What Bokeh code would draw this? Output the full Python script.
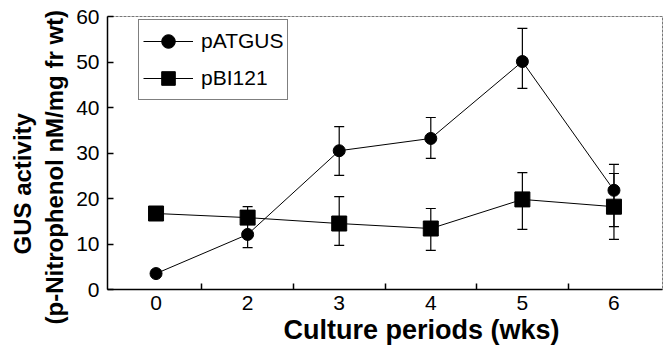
from bokeh.plotting import figure
from bokeh.models import ColumnDataSource, Whisker, TeeHead, FixedTicker, Range1d, Legend, LegendItem, Title
from bokeh.embed import file_html
from bokeh.resources import INLINE

weeks = ["0", "2", "3", "4", "5", "6"]
patgus = [3.5, 12.1, 30.5, 33.2, 50.1, 21.8]
patgus_upper = [3.5, 18.2, 35.8, 37.8, 57.4, 27.5]
patgus_lower = [3.5, 9.2, 25.1, 28.8, 44.2, 13.8]
pbi121 = [16.7, 15.8, 14.5, 13.4, 19.8, 18.2]
pbi121_upper = [16.7, 15.8, 20.4, 17.8, 25.7, 25.5]
pbi121_lower = [16.7, 15.8, 9.7, 8.6, 13.2, 11.0]
y_title_1 = "GUS activity"
y_title_2 = "(p-Nitrophenol nM/mg fr wt)"
x_title = "Culture periods (wks)"

pos = list(range(len(weeks)))
FONT = "Liberation Sans"

src_a = ColumnDataSource(dict(x=pos, y=patgus, up=patgus_upper, lo=patgus_lower))
src_b = ColumnDataSource(dict(x=pos, y=pbi121, up=pbi121_upper, lo=pbi121_lower))

p = figure(width=666, height=346, output_backend="svg", toolbar_location=None,
           x_range=Range1d(-0.53, 5.53), y_range=Range1d(0, 60),
           min_border_left=107, min_border_top=16, min_border_right=4, min_border_bottom=57)
p.background_fill_color = "white"
p.border_fill_color = "white"
p.xgrid.visible = False
p.ygrid.visible = False
p.outline_line_color = "#777777"
p.outline_line_dash = "3 1"
p.outline_line_width = 1

# error bars
for src in (src_a, src_b):
    w = Whisker(base="x", upper="up", lower="lo", source=src, dimension="height",
                line_color="black", line_width=1.2,
                upper_head=TeeHead(size=10, line_color="black", line_width=1.2),
                lower_head=TeeHead(size=10, line_color="black", line_width=1.2))
    p.add_layout(w)

la = p.line("x", "y", source=src_a, line_color="black", line_width=1)
sa = p.scatter("x", "y", source=src_a, marker="circle", size=12, fill_color="black", line_color="black")
lb = p.line("x", "y", source=src_b, line_color="black", line_width=1)
sb = p.scatter("x", "y", source=src_b, marker="square", size=15, fill_color="black", line_color="black")

legend = Legend(items=[LegendItem(label="pATGUS", renderers=[la, sa]),
                       LegendItem(label="pBI121", renderers=[lb, sb])],
                location=(31, 189))
legend.border_line_color = "black"
legend.border_line_width = 1.2
legend.label_text_font = FONT
legend.label_text_font_size = "21px"
legend.label_text_color = "black"
legend.glyph_width = 50
legend.glyph_height = 34
legend.label_height = 34
legend.label_standoff = 8
legend.padding = 4
legend.spacing = 3
legend.margin = 0
legend.background_fill_alpha = 1
p.add_layout(legend)

# x axis
xt = FixedTicker(ticks=pos, minor_ticks=[i + 0.5 for i in pos[:-1]])
p.xaxis.ticker = xt
p.xaxis.major_label_overrides = {i: w for i, w in zip(pos, weeks)}
p.xaxis.major_tick_in = 0
p.xaxis.major_tick_out = 0
p.xaxis.minor_tick_in = 6
p.xaxis.minor_tick_out = 0
p.xaxis.minor_tick_line_color = "black"
p.xaxis.minor_tick_line_width = 1.5
p.xaxis.major_label_standoff = 6

# y axis
p.yaxis.ticker = FixedTicker(ticks=[0, 10, 20, 30, 40, 50, 60])
p.yaxis.major_tick_in = 6
p.yaxis.major_tick_out = 0
p.yaxis.minor_tick_line_color = None
p.yaxis.major_label_standoff = 8

for ax in (p.xaxis, p.yaxis):
    ax.axis_line_color = "black"
    ax.axis_line_width = 1.5
    ax.major_tick_line_color = "black"
    ax.major_tick_line_width = 1.5
    ax.major_label_text_font = FONT
    ax.major_label_text_font_size = "21px"
    ax.major_label_text_color = "black"

def mk_title(txt, size, offset, standoff):
    return Title(text=txt, align="left", offset=offset, standoff=standoff,
                 text_font=FONT, text_font_style="bold", text_font_size=size,
                 text_color="black")

p.add_layout(mk_title(y_title_2, "24px", -35, 11), "left")
p.add_layout(mk_title(y_title_1, "24px", 35, -4), "left")
p.add_layout(mk_title(x_title, "27px", 176, 0), "below")

open("out.html", "w").write(file_html(p, INLINE))
